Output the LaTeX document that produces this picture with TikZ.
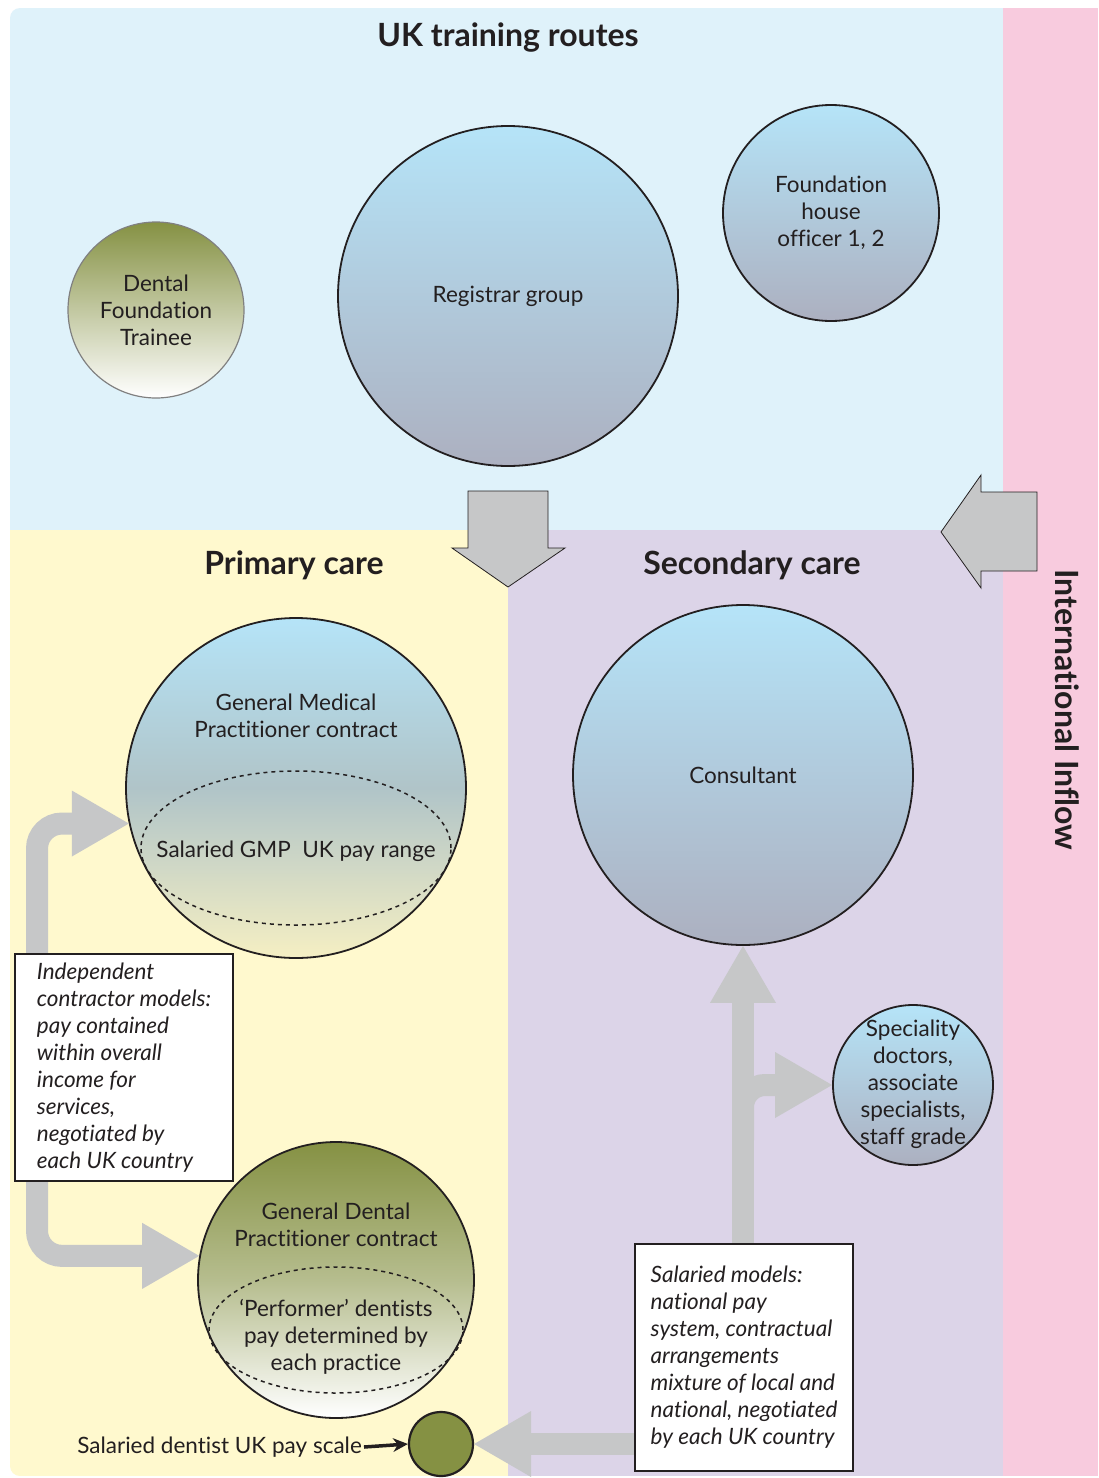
\documentclass[tikz,border=0pt]{standalone}
\usepackage{fontspec}
\setmainfont{Lato}[Ligatures=NoCommon]
\usetikzlibrary{arrows.meta,shapes.geometric}

\definecolor{routeblue}{RGB}{223,242,250}
\definecolor{inflowpink}{RGB}{248,203,222}
\definecolor{primaryyellow}{RGB}{255,249,206}
\definecolor{secondarylilac}{RGB}{220,212,232}
\definecolor{flowgray}{RGB}{198,199,200}
\definecolor{dentalgreen}{RGB}{133,145,67}
\definecolor{circleblue}{RGB}{181,228,248}
\definecolor{circlegray}{RGB}{172,176,192}
\definecolor{gmpmid}{RGB}{176,196,200}
\definecolor{circlecream}{RGB}{245,239,195}
\definecolor{textdark}{RGB}{35,31,32}

\begin{document}
\begin{tikzpicture}[x=1pt, y=-1pt, font=\fontsize{22.5}{27}\selectfont, text=textdark,
    circ/.style={circle, draw=textdark, line width=1.8pt, inner sep=0pt},
    bluecirc/.style={circ, top color=circleblue, bottom color=circlegray},
    greencirc/.style={circ, top color=dentalgreen, bottom color=white},
    payzone/.style={ellipse, draw=textdark, line width=1.5pt, dash pattern=on 4pt off 4pt, inner sep=0pt},
    notebox/.style={draw=textdark, line width=2.2pt, fill=white, align=left, inner sep=0pt,
        minimum width=218pt, minimum height=227pt, font=\fontsize{22.5}{27}\selectfont\itshape},
    flow/.style={draw=flowgray, line width=22pt, -{Triangle[length=57pt, width=66pt, line width=0pt]}},
    blockarrow/.style={fill=flowgray, draw=textdark, line width=0.8pt, line join=miter},
    heading/.style={font=\fontsize{32}{36}\selectfont\bfseries}
]
\useasboundingbox (0,0) rectangle (1098,1478);
\fill[white] (0,0) rectangle (1098,1478);

% Background panels
\begin{scope}
    \clip[rounded corners=10pt] (10,8) rectangle (1130,1476);
    \fill[routeblue] (10,8) rectangle (1003,530);
    \fill[primaryyellow] (10,530) rectangle (508,1476);
    \fill[secondarylilac] (508,530) rectangle (1003,1476);
    \fill[inflowpink] (1003,8) rectangle (1098,1476);
\end{scope}

% Panel titles
\node[heading] (routes) at (508,38) {UK training routes};
\node[heading] (primary) at (294,565) {Primary care};
\node[heading] (secondary) at (752,565) {Secondary care};
\node[heading, rotate=-90] (inflow) at (1067,710) {International Inflow};

% Block arrows between panels
\draw[blockarrow] (468,491) -- (548,491) -- (548,548) -- (565,548) -- (508,587) -- (452,548) -- (468,548) -- cycle;
\draw[blockarrow] (941,532) -- (981,475) -- (981,492) -- (1037,492) -- (1037,571) -- (981,571) -- (981,588) -- cycle;

% UK training routes
\node[greencirc, draw=gray, line width=1.2pt, minimum size=176pt, align=center] (trainee) at (156,310) {Dental\\Foundation\\Trainee};
\node[bluecirc, minimum size=340pt] (registrar) at (508,296) {Registrar group};
\node[bluecirc, minimum size=216pt, align=center] (houseofficer) at (831,213) {Foundation\\house\\officer 1, 2};

% Primary care
\node[circ, top color=circleblue, bottom color=circlecream, middle color=gmpmid, minimum size=340pt] (gmp) at (296,788) {};
\node[align=center] (gmplabel) at (296,716) {General Medical\\Practitioner contract};
\node[payzone, minimum width=310pt, minimum height=154pt] (gmpsalaried) at (296,848) {};
\node (gmpsalariedlabel) at (296,851) {Salaried GMP\ \ UK pay range};

\node[circ, top color=dentalgreen, bottom color=white, middle color=dentalgreen!60!white, minimum size=276pt] (gdp) at (336,1280) {};
\node[align=center] (gdplabel) at (336,1225) {General Dental\\Practitioner contract};
\node[payzone, minimum width=254pt, minimum height=126pt] (performer) at (336,1330) {};
\node[align=center] (performerlabel) at (336,1337) {`Performer' dentists\\pay determined by\\each practice};

\node[circ, fill=dentalgreen, line width=2.2pt, minimum size=64pt] (dentist) at (441,1444) {};
\node[anchor=east, inner sep=2pt] (scalelabel) at (364,1447) {Salaried dentist UK pay scale};
\draw[textdark, line width=3.5pt, -{Stealth[length=15pt, width=14pt, line width=0pt]}] (scalelabel.east) -- (dentist.west);

% Secondary care
\node[bluecirc, minimum size=340pt] (consultant) at (743,775) {Consultant};
\node[bluecirc, minimum size=160pt] (speciality) at (913,1085) {};
\node[align=center] (specialitylabel) at (913,1084) {Speciality\\doctors,\\associate\\specialists,\\staff grade};

% Pay arrows
\coordinate (bracket) at (37,1066);
\coordinate (fork) at (743,1140);
\draw[flow, rounded corners=25pt] (bracket) |- (gmp.192);
\draw[flow, rounded corners=25pt] (bracket) |- (gdp.170);
\draw[flow] (743,1243) -- (consultant.south);
\draw[flow, rounded corners=22pt] (fork) |- (speciality.west);
\draw[flow] (634,1444) -- (dentist.east);

% Notes
\node[notebox, anchor=north west] (indepbox) at (14,953) {Independent\\contractor models:\\pay contained\\within overall\\income for\\services,\\negotiated by\\each UK country};
\node[notebox, anchor=north west] (salbox) at (634,1243) {Salaried models:\\national pay\\system, contractual\\arrangements\\mixture of local and\\national, negotiated\\by each UK country};
\end{tikzpicture}
\end{document}
